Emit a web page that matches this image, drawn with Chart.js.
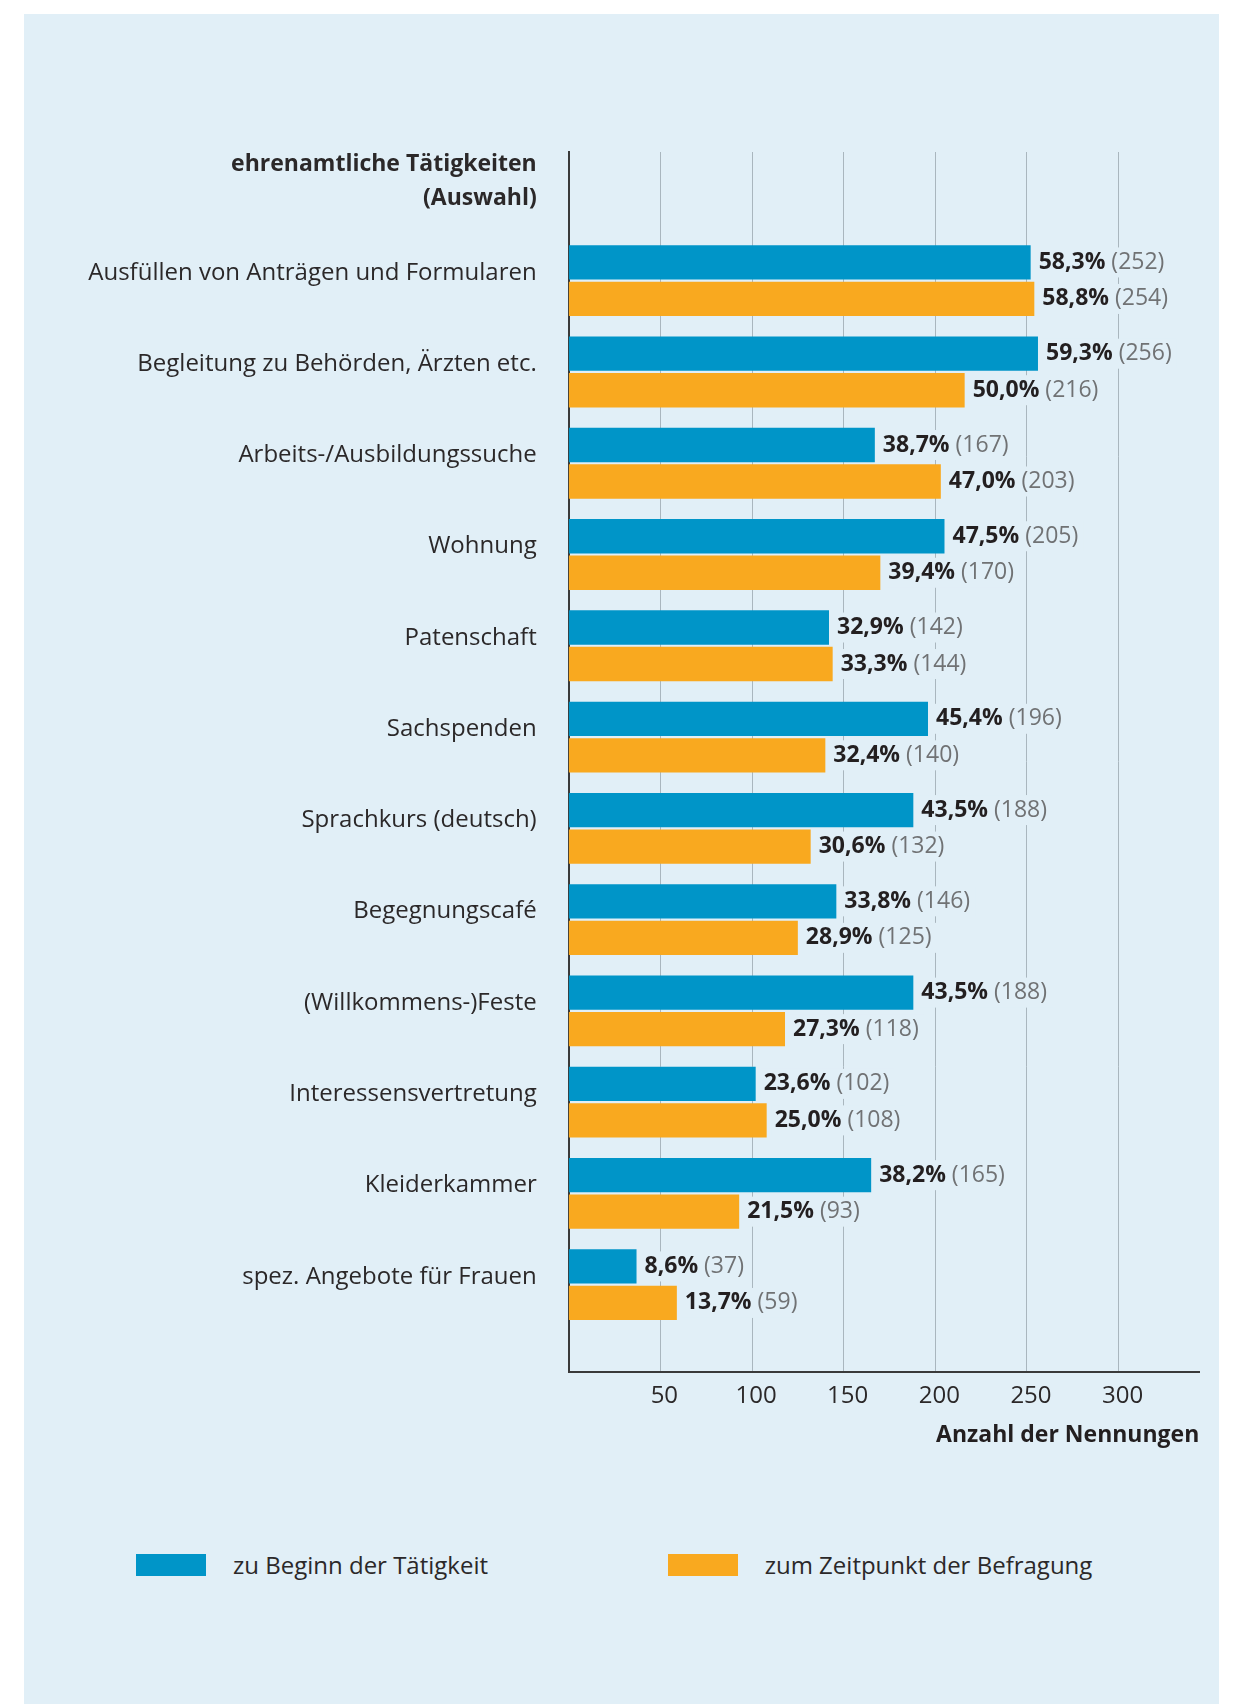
<!DOCTYPE html>
<html lang="de">
<head>
<meta charset="utf-8">
<title>Ehrenamtliche Tätigkeiten</title>
<script src="https://cdn.jsdelivr.net/npm/chart.js@4.4.1/dist/chart.umd.min.js"></script>
<style>
  html, body { margin: 0; padding: 0; background: #fff; }
  body { width: 1243px; height: 1704px; position: relative; overflow: hidden; font-family: 'Open Sans', sans-serif; }
  .panel { position: absolute; left: 24px; top: 14px; width: 1195px; height: 1690px; background: #e1eff7; }
  .chart-box { position: absolute; left: 0; top: 0; width: 1243px; height: 1470px; }
  .legend-item { position: absolute; top: 1554px; height: 22px; line-height: 22px; display: flex; align-items: center; font-size: 24px; color: #2b2829; white-space: nowrap; }
  .legend-item .swatch { width: 70px; height: 22px; margin-right: 27px; flex: none; }
</style>
</head>
<body>
<div class="panel"></div>
<div class="chart-box"><canvas id="activityChart"></canvas></div>
<div id="legend"></div>

<script>
// values
const categories = [
  'Ausfüllen von Anträgen und Formularen',
  'Begleitung zu Behörden, Ärzten etc.',
  'Arbeits-/Ausbildungssuche',
  'Wohnung',
  'Patenschaft',
  'Sachspenden',
  'Sprachkurs (deutsch)',
  'Begegnungscafé',
  '(Willkommens-)Feste',
  'Interessensvertretung',
  'Kleiderkammer',
  'spez. Angebote für Frauen'
];
const beginCounts = [252, 256, 167, 205, 142, 196, 188, 146, 188, 102, 165, 37];
const beginShares = [58.3, 59.3, 38.7, 47.5, 32.9, 45.4, 43.5, 33.8, 43.5, 23.6, 38.2, 8.6];
const surveyCounts = [254, 216, 203, 170, 144, 140, 132, 125, 118, 108, 93, 59];
const surveyShares = [58.8, 50.0, 47.0, 39.4, 33.3, 32.4, 30.6, 28.9, 27.3, 25.0, 21.5, 13.7];
const xTicks = [50, 100, 150, 200, 250, 300];
const headerLabel = ['ehrenamtliche Tätigkeiten', '(Auswahl)'];
const seriesLabels = ['zu Beginn der Tätigkeit', 'zum Zeitpunkt der Befragung'];
const seriesColors = ['#0095c8', '#f9a91f'];

const panelColor = '#e1eff7';
const textColor = '#2b2829';
const fontFamily = 'Open Sans';
const shares = [beginShares, surveyShares];

// Percent + count next to each bar, on a panel-coloured box so gridlines break
const valueLabels = {
  id: 'valueLabels',
  afterDatasetsDraw(chart) {
    const ctx = chart.ctx;
    chart.data.datasets.forEach((ds, di) => {
      const meta = chart.getDatasetMeta(di);
      meta.data.forEach((bar, i) => {
        const pct = shares[di][i].toFixed(1).replace('.', ',') + '%';
        const cnt = ' (' + ds.data[i].x + ')';
        const x = bar.x + 8;
        const y = bar.y;
        ctx.save();
        ctx.textBaseline = 'middle';
        ctx.font = 'bold 23px "' + fontFamily + '"';
        const w1 = ctx.measureText(pct).width;
        ctx.font = '23px "' + fontFamily + '"';
        const w2 = ctx.measureText(cnt).width;
        ctx.fillStyle = panelColor;
        ctx.fillRect(x - 3, y - 15, w1 + w2 + 8, 30);
        ctx.font = 'bold 23px "' + fontFamily + '"';
        ctx.fillStyle = '#231f20';
        ctx.fillText(pct, x, y);
        ctx.font = '23px "' + fontFamily + '"';
        ctx.fillStyle = '#707274';
        ctx.fillText(cnt, x + w1, y);
        ctx.restore();
      });
    });
  }
};

const activityChart = new Chart(document.getElementById('activityChart'), {
  type: 'bar',
  data: {
    datasets: [0, 1].map(s => ({
      label: seriesLabels[s],
      data: categories.map((c, i) => ({ x: (s === 0 ? beginCounts : surveyCounts)[i], y: i })),
      backgroundColor: seriesColors[s],
      borderWidth: 0,
      categoryPercentage: 0.8,
      barPercentage: 0.94
    }))
  },
  options: {
    indexAxis: 'y',
    responsive: true,
    maintainAspectRatio: false,
    animation: false,
    layout: { padding: { top: 152, right: 43.7, bottom: 0, left: 0 } },
    plugins: {
      legend: { display: false },
      tooltip: { enabled: false }
    },
    scales: {
      x: {
        type: 'linear',
        position: 'bottom',
        min: 0,
        max: 344,
        afterBuildTicks: scale => { scale.ticks = xTicks.map(v => ({ value: v })); },
        afterFit: scale => { scale.height = 97.7; },
        grid: { color: '#a9b6be', lineWidth: 1, drawTicks: false },
        border: { display: true, color: '#3a3a3a', width: 2 },
        ticks: {
          padding: 9,
          labelOffset: 4,
          autoSkip: false,
          maxRotation: 0,
          color: textColor,
          font: { family: fontFamily, size: 24 }
        },
        title: {
          display: true,
          text: 'Anzahl der Nennungen',
          align: 'end',
          color: '#231f20',
          font: { family: fontFamily, size: 23, weight: 'bold' },
          padding: { top: 4, bottom: 21 }
        }
      },
      y: {
        type: 'linear',
        reverse: true,
        offset: false,
        bounds: 'data',
        min: -1.41,
        max: 11.96,
        afterBuildTicks: scale => {
          scale.ticks = [-1].concat(categories.map((c, i) => i)).map(v => ({ value: v }));
        },
        afterFit: scale => { scale.width = 568.7; },
        grid: { display: false, drawTicks: false, offset: false },
        border: { display: true, color: '#3a3a3a', width: 2 },
        ticks: {
          padding: 32,
          labelOffset: -8,
          autoSkip: false,
          color: textColor,
          font: ctx => {
            const header = ctx.tick && ctx.tick.value === -1;
            return { family: fontFamily, size: header ? 23 : 24, lineHeight: 1.5, weight: header ? 'bold' : 'normal' };
          },
          callback: v => v === -1 ? headerLabel : categories[v]
        }
      }
    }
  },
  plugins: [valueLabels]
});

// legend below the plot
const legendLeft = [136, 667.7];
const legendEl = document.getElementById('legend');
seriesLabels.forEach((label, s) => {
  const item = document.createElement('div');
  item.className = 'legend-item';
  item.style.left = legendLeft[s] + 'px';
  item.innerHTML = '<span class="swatch" style="background:' + seriesColors[s] + '"></span><span>' + label + '</span>';
  legendEl.appendChild(item);
});
</script>
</body>
</html>
